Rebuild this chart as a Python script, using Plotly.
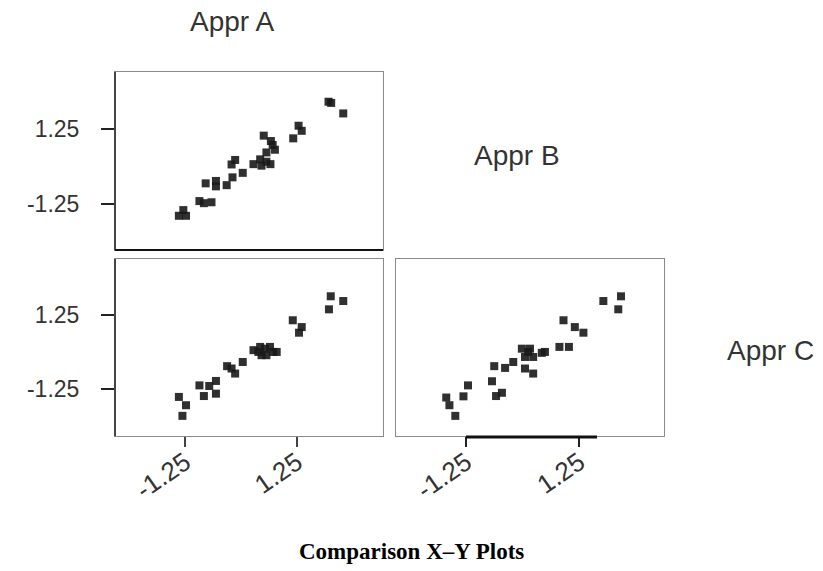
import plotly.graph_objects as go

# Panel 1 (top-left): Appr A (x) vs Appr B (y)
ab_x = [1.96, 2.02, 2.29, 1.29, 1.36, 1.17, 0.51, 0.67, 0.76, 0.57, 0.71,
        0.28, 0.43, 0.46, 0.57, 0.66, -0.13, -0.21, 0.04, -0.19, -0.32,
        -0.79, -0.56, -0.56, -0.93, -0.83, -0.66, -1.29, -1.39, -1.23]
ab_y = [2.16, 2.12, 1.77, 1.36, 1.19, 0.94, 1.03, 0.85, 0.56, 0.47, 0.72,
        0.08, 0.24, 0.03, 0.16, 0.08, 0.22, 0.07, -0.21, -0.36, -0.62,
        -0.56, -0.48, -0.66, -1.15, -1.22, -1.19, -1.45, -1.64, -1.64]

# Panel 2 (bottom-left): Appr A (x) vs Appr C (y)
ac_x = [2.01, 2.29, 1.97, 1.16, 1.36, 1.30, 0.28, 0.43, 0.54, 0.65, 0.72,
        0.57, 0.80, 0.46, 0.39, 0.04, -0.31, -0.21, -0.13, -0.93, -0.71,
        -0.56, -0.83, -0.56, -1.39, -1.23, -1.31]
ac_y = [1.88, 1.72, 1.44, 1.07, 0.84, 0.65, 0.06, 0.17, 0.11, 0.17, 0.00,
        -0.11, 0.00, -0.11, 0.00, -0.34, -0.48, -0.56, -0.73, -1.13, -1.15,
        -0.98, -1.49, -1.41, -1.52, -1.80, -2.16]

# Panel 3 (bottom-right): Appr B (x) vs Appr C (y)
bc_x = [1.78, 2.17, 2.11, 0.90, 1.15, 1.34, 0.81, 1.02, 0.49, 0.42, -0.02,
        0.16, 0.05, 0.23, 0.12, 0.05, 0.23, -0.21, -0.39, -0.63, -0.68,
        -1.21, -1.31, -0.59, -0.46, -1.69, -1.62, -1.49]
bc_y = [1.72, 1.88, 1.44, 1.07, 0.84, 0.65, 0.17, 0.17, 0.00, -0.03, 0.11,
        0.11, -0.17, -0.17, 0.00, -0.56, -0.73, -0.34, -0.54, -0.48, -0.99,
        -1.13, -1.50, -1.49, -1.38, -1.54, -1.80, -2.16]

tick_vals = [-1.25, 1.25]
tick_text = ["-1.25", "1.25"]
var_labels = ["Appr A", "Appr B", "Appr C"]
title_text = "Comparison X\u2013Y Plots"

W, H = 823, 571
def fx(px):
    return px / W
def fy(py):
    return 1 - py / H

marker = dict(symbol="square", size=8, color="rgba(25,25,25,0.9)", line=dict(width=0))

fig = go.Figure()
fig.add_trace(go.Scatter(x=ab_x, y=ab_y, mode="markers", marker=marker, xaxis="x", yaxis="y"))
fig.add_trace(go.Scatter(x=ac_x, y=ac_y, mode="markers", marker=marker, xaxis="x2", yaxis="y2"))
fig.add_trace(go.Scatter(x=bc_x, y=bc_y, mode="markers", marker=marker, xaxis="x3", yaxis="y3"))

tickfont = dict(family="Liberation Sans, Arial, sans-serif", size=23, color="#333")
xtickfont = dict(family="Liberation Sans, Arial, sans-serif", size=26, color="#333")
box = dict(showline=True, linecolor="#8a8a8a", linewidth=1, mirror=True,
           showgrid=False, zeroline=False, fixedrange=True)

col1 = [fx(115), fx(383)]
col2 = [fx(396), fx(664)]
row1 = [fy(250), fy(72)]
row2 = [fy(436), fy(259)]
xr1 = [-2.82, 3.18]
xr2 = [-2.80, 3.12]
yr1 = [-2.78, 3.15]
yr2 = [-2.84, 3.14]

fig.update_layout(
    width=W, height=H, margin=dict(l=0, r=0, t=0, b=0),
    paper_bgcolor="white", plot_bgcolor="white", showlegend=False,
    xaxis=dict(domain=col1, range=xr1, anchor="y", showticklabels=False, ticks="", **box),
    yaxis=dict(domain=row1, range=yr1, anchor="x", tickvals=tick_vals, ticktext=tick_text,
               ticks="outside", ticklen=13, tickwidth=2, tickcolor="#222",
               tickfont=tickfont, ticklabelstandoff=17, **box),
    xaxis2=dict(domain=col1, range=xr1, anchor="y2", tickvals=tick_vals, ticktext=tick_text,
                ticks="outside", ticklen=10, tickwidth=1.5, tickcolor="#444",
                tickangle=-35, tickfont=xtickfont, ticklabelstandoff=-10, **box),
    yaxis2=dict(domain=row2, range=yr2, anchor="x2", tickvals=tick_vals, ticktext=tick_text,
                ticks="outside", ticklen=13, tickwidth=2, tickcolor="#222",
                tickfont=tickfont, ticklabelstandoff=17, **box),
    xaxis3=dict(domain=col2, range=xr2, anchor="y3", tickvals=tick_vals, ticktext=tick_text,
                ticks="outside", ticklen=10, tickwidth=2, tickcolor="#222",
                tickangle=-35, tickfont=xtickfont, ticklabelstandoff=-10, **box),
    yaxis3=dict(domain=row2, range=yr2, anchor="x3", showticklabels=False, ticks="", **box),
)

# darker left borders and heavy bottom rules
shapes = [
    dict(type="line", xref="x domain", yref="y domain", x0=0, x1=0, y0=0, y1=1,
         line=dict(color="#444", width=2)),
    dict(type="line", xref="x domain", yref="y domain", x0=0, x1=1, y0=0, y1=0,
         line=dict(color="#111", width=2)),
    dict(type="line", xref="x2 domain", yref="y2 domain", x0=0, x1=0, y0=0, y1=1,
         line=dict(color="#444", width=2)),
    dict(type="line", xref="x3 domain", yref="y3 domain", x0=0.261, x1=0.75, y0=-0.006, y1=-0.006,
         line=dict(color="#111", width=3)),
]
fig.update_layout(shapes=shapes)

lab_font = dict(family="Liberation Sans, Arial, sans-serif", size=28, color="#333")
for txt, px, py in [(var_labels[0], 232, 22), (var_labels[1], 517, 155), (var_labels[2], 770, 350)]:
    fig.add_annotation(text=txt, x=fx(px), y=fy(py), xref="paper", yref="paper",
                       xanchor="center", yanchor="middle", showarrow=False, font=lab_font)
fig.add_annotation(text="<b>" + title_text + "</b>", x=fx(411), y=fy(551), xref="paper", yref="paper",
                   xanchor="center", yanchor="middle", showarrow=False,
                   font=dict(family="Liberation Serif, Times New Roman, serif", size=23, color="#000"))

fig.write_html("out.html")
